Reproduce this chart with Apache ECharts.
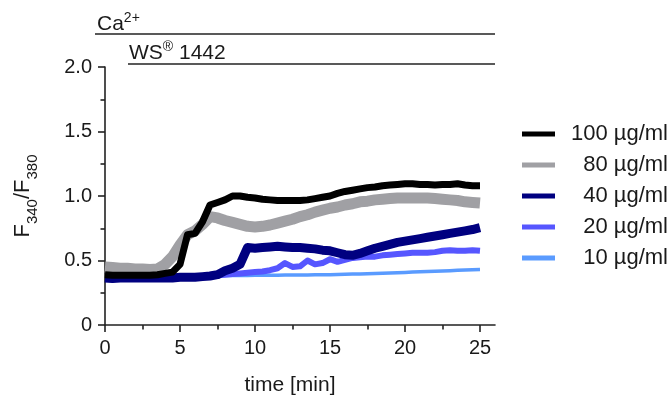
<!DOCTYPE html>
<html>
<head>
<meta charset="utf-8">
<script src="https://cdn.jsdelivr.net/npm/echarts@6/dist/echarts.min.js"></script>
<style>html,body{margin:0;padding:0;background:#fff}#c{width:671px;height:401px}</style>
</head>
<body>
<div id="c"></div>
<script>
// time [min]
const time = [0,0.5,1,1.5,2,2.5,3,3.5,4,4.5,5,5.5,6,6.5,7,7.5,8,8.5,9,9.5,10,10.5,11,11.5,12,12.5,13,13.5,14,14.5,15,15.5,16,16.5,17,17.5,18,18.5,19,19.5,20,20.5,21,21.5,22,22.5,23,23.5,24,24.5,25];
// F340/F380 ratio per concentration
const c100 = [0.39,0.385,0.385,0.385,0.385,0.385,0.385,0.39,0.40,0.41,0.47,0.70,0.71,0.80,0.93,0.95,0.97,1.00,1.00,0.99,0.985,0.975,0.97,0.965,0.965,0.965,0.965,0.97,0.98,0.99,1.00,1.02,1.035,1.045,1.055,1.065,1.07,1.08,1.085,1.09,1.095,1.095,1.09,1.09,1.085,1.09,1.09,1.095,1.085,1.08,1.08];
const c80 = [0.45,0.445,0.44,0.44,0.435,0.435,0.43,0.435,0.47,0.53,0.62,0.70,0.73,0.78,0.84,0.83,0.81,0.795,0.78,0.765,0.76,0.765,0.775,0.79,0.805,0.82,0.84,0.855,0.875,0.89,0.905,0.915,0.93,0.94,0.955,0.96,0.97,0.975,0.98,0.985,0.985,0.985,0.985,0.985,0.98,0.975,0.97,0.965,0.955,0.95,0.945];
const c40 = [0.365,0.36,0.365,0.365,0.365,0.365,0.365,0.365,0.365,0.365,0.37,0.37,0.37,0.375,0.38,0.39,0.42,0.44,0.47,0.60,0.595,0.60,0.605,0.61,0.605,0.60,0.60,0.595,0.59,0.58,0.575,0.56,0.545,0.54,0.555,0.575,0.595,0.61,0.625,0.64,0.65,0.66,0.67,0.68,0.69,0.70,0.71,0.72,0.73,0.74,0.755];
const c20 = [0.375,0.375,0.375,0.375,0.375,0.375,0.375,0.375,0.375,0.375,0.375,0.375,0.377,0.378,0.38,0.385,0.39,0.395,0.40,0.405,0.41,0.415,0.425,0.44,0.48,0.45,0.455,0.50,0.47,0.48,0.51,0.49,0.505,0.52,0.525,0.53,0.53,0.54,0.545,0.55,0.555,0.56,0.56,0.56,0.565,0.575,0.58,0.575,0.575,0.58,0.575];
const c10 = [0.38,0.38,0.38,0.38,0.38,0.38,0.38,0.38,0.38,0.38,0.38,0.38,0.38,0.381,0.382,0.382,0.383,0.383,0.384,0.384,0.385,0.385,0.386,0.386,0.387,0.387,0.388,0.388,0.389,0.39,0.39,0.392,0.393,0.395,0.396,0.398,0.40,0.402,0.403,0.405,0.407,0.41,0.412,0.414,0.416,0.419,0.421,0.424,0.426,0.428,0.43];
const seriesNames = ['100 µg/ml','80 µg/ml','40 µg/ml','20 µg/ml','10 µg/ml'];
const xMajorTicks = [0,5,10,15,20,25];
const xMinorTicks = [2.5,7.5,12.5,17.5,22.5];
const yMajorTicks = [0,0.5,1.0,1.5,2.0];
const yMinorTicks = [0.25,0.75,1.25,1.75];

const pair = arr => time.map((t,i) => [t, arr[i]]);
const FONT = 'Liberation Sans, Arial, sans-serif';
const INK = '#1a1a1a';

const chart = echarts.init(document.getElementById('c'));
const mk = (name, data, color, w) => ({
  name, type: 'line', data: pair(data), showSymbol: false, symbol: 'none',
  lineStyle: { color, width: w, join: 'round' }, itemStyle: { color },
  xAxisIndex: 0, yAxisIndex: 0, animation: false
});
chart.setOption({
  animation: false,
  grid: { left: 105, right: 176, top: 67, bottom: 74 },
  xAxis: [{
    type: 'value', min: 0, max: 26,
    name: 'time [min]', nameLocation: 'middle', nameGap: 50,
    nameTextStyle: { fontFamily: FONT, fontSize: 21, color: INK, padding: [0, 20, 0, 0] },
    axisLine: { show: true, lineStyle: { color: '#222', width: 1.6 } },
    axisTick: { show: true, length: 7, customValues: xMajorTicks, lineStyle: { color: '#222', width: 1.6 } },
    axisLabel: { customValues: xMajorTicks, margin: 13, fontFamily: FONT, fontSize: 20, color: INK },
    splitLine: { show: false }
  }, {
    type: 'value', min: 0, max: 26, position: 'bottom', gridIndex: 0,
    axisLine: { show: false },
    axisTick: { show: true, length: 4.5, customValues: xMinorTicks, lineStyle: { color: '#222', width: 1.6 } },
    axisLabel: { show: false }, splitLine: { show: false }
  }],
  yAxis: [{
    type: 'value', min: 0, max: 2,
    name: '{f|F}{s|340}{f|/F}{s|380}', nameLocation: 'middle', nameGap: 65,
    nameTextStyle: {
      fontFamily: FONT, color: INK,
      rich: {
        f: { fontFamily: FONT, fontSize: 22, lineHeight: 28, verticalAlign: 'top', color: INK },
        s: { fontFamily: FONT, fontSize: 15, lineHeight: 12, verticalAlign: 'bottom', color: INK }
      }
    },
    axisLine: { show: true, lineStyle: { color: '#222', width: 1.6 } },
    axisTick: { show: true, length: 7, customValues: yMajorTicks, lineStyle: { color: '#222', width: 1.6 } },
    axisLabel: { customValues: yMajorTicks, margin: 13, fontFamily: FONT, fontSize: 20, color: INK,
      formatter: v => v === 0 ? '0' : v.toFixed(1) },
    splitLine: { show: false }
  }, {
    type: 'value', min: 0, max: 2, position: 'left', gridIndex: 0,
    axisLine: { show: false },
    axisTick: { show: true, length: 4.5, customValues: yMinorTicks, lineStyle: { color: '#222', width: 1.6 } },
    axisLabel: { show: false }, splitLine: { show: false }
  }],
  legend: {
    orient: 'vertical', left: 522, top: 123, padding: 0, icon: 'rect', itemWidth: 33, itemHeight: 5, itemGap: 9,
    data: seriesNames,
    formatter: n => '{a|' + n + '}',
    textStyle: { fontFamily: FONT, fontSize: 22, color: INK,
      rich: { a: { fontFamily: FONT, fontSize: 22, lineHeight: 22, width: 108, align: 'right', color: INK } } }
  },
  graphic: [
    { type: 'text', left: 97, top: 11, silent: true,
      style: { text: '{a|Ca}{s|2+}', fill: INK,
        rich: { a: { fontFamily: FONT, fontSize: 21, lineHeight: 24, verticalAlign: 'bottom', fill: INK },
                s: { fontFamily: FONT, fontSize: 14, lineHeight: 21, verticalAlign: 'top', fill: INK } } } },
    { type: 'line', silent: true, shape: { x1: 95, y1: 34, x2: 495, y2: 34 }, style: { stroke: '#222', lineWidth: 1.4 } },
    { type: 'text', left: 129, top: 40, silent: true,
      style: { text: '{a|WS}{s|®}{a| 1442}', fill: INK,
        rich: { a: { fontFamily: FONT, fontSize: 21, lineHeight: 24, verticalAlign: 'bottom', fill: INK },
                s: { fontFamily: FONT, fontSize: 14, lineHeight: 19, verticalAlign: 'top', fill: INK } } } },
    { type: 'line', silent: true, shape: { x1: 128, y1: 64, x2: 495, y2: 64 }, style: { stroke: '#222', lineWidth: 1.4 } }
  ],
  series: [
    mk(seriesNames[4], c10, '#5a9bff', 3.5),
    mk(seriesNames[3], c20, '#5656ff', 6),
    mk(seriesNames[2], c40, '#000080', 9),
    mk(seriesNames[1], c80, '#a0a0a4', 11),
    mk(seriesNames[0], c100, '#000000', 7)
  ]
});
</script>
</body>
</html>
